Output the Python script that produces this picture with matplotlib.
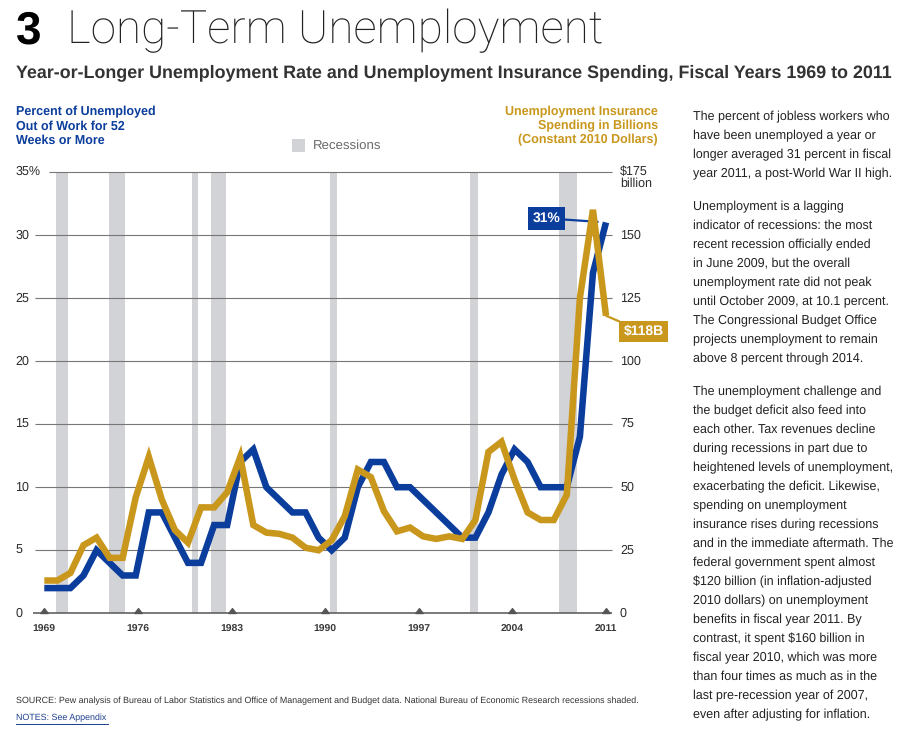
import numpy as np
import matplotlib
matplotlib.use("Agg")
import matplotlib.pyplot as plt
from matplotlib.path import Path
from matplotlib.patches import Rectangle
from matplotlib.lines import Line2D

W, H = 919, 737
BLUE = "#0b3d9c"
GOLD = "#c9971c"
REC_GRAY = "#d2d3d6"
GRID = "#777777"
TEXT = "#2b2b2b"

plt.rcParams['font.family'] = ['Liberation Sans', 'DejaVu Sans']
plt.rcParams['text.parse_math'] = False
plt.rcParams['text.hinting'] = 'no_hinting'

# --- data (44 points drawn across fiscal 1969-2011) ---
long_term_pct = [2, 2, 2, 3, 5, 4, 3, 3, 8, 8, 6, 4, 4, 7, 7, 12, 13, 10, 9, 8,
                 8, 6, 5, 6, 10, 12, 12, 10, 10, 9, 8, 7, 6, 6, 8, 11, 13, 12, 10, 10,
                 10, 14, 27, 31]
ui_spending = [13, 13, 16, 27, 30, 22, 22, 46, 62, 45, 33, 28, 42, 42, 48, 62,
               35, 32, 31.5, 30, 26, 25, 29, 38.5, 57, 54, 40.5, 32.5, 34, 30.5, 29.5,
               30.5, 29.5, 37, 64, 68, 53, 40, 37, 37, 47, 125, 160, 118]
recessions = [(1969.9, 1970.75), (1973.85, 1975.0), (1980.05, 1980.5), (1981.45, 1982.6),
              (1990.35, 1990.9), (2000.8, 2001.4), (2007.5, 2008.8)]
year_ticks = [1969, 1976, 1983, 1990, 1997, 2004, 2011]
pct_ticks = [0, 5, 10, 15, 20, 25, 30, 35]
bil_ticks = [0, 25, 50, 75, 100, 125, 150, 175]

p1 = ["The percent of jobless workers who",
      "have been unemployed a year or",
      "longer averaged 31 percent in fiscal",
      "year 2011, a post-World War II high."]
p2 = ["Unemployment is a lagging",
      "indicator of recessions: the most",
      "recent recession officially ended",
      "in June 2009, but the overall",
      "unemployment rate did not peak",
      "until October 2009, at 10.1 percent.",
      "The Congressional Budget Office",
      "projects unemployment to remain",
      "above 8 percent through 2014."]
p3 = ["The unemployment challenge and",
      "the budget deficit also feed into",
      "each other. Tax revenues decline",
      "during recessions in part due to",
      "heightened levels of unemployment,",
      "exacerbating the deficit. Likewise,",
      "spending on unemployment",
      "insurance rises during recessions",
      "and in the immediate aftermath. The",
      "federal government spent almost",
      "$120 billion (in inflation-adjusted",
      "2010 dollars) on unemployment",
      "benefits in fiscal year 2011. By",
      "contrast, it spent $160 billion in",
      "fiscal year 2010, which was more",
      "than four times as much as in the",
      "last pre-recession year of 2007,",
      "even after adjusting for inflation."]

# x positions of the 44 points, evenly spread over the axis like the source
fiscal_x = np.linspace(year_ticks[0], year_ticks[-1], len(long_term_pct))


def fx(px):
    return px / W


def fy(py):
    return 1 - py / H


fig = plt.figure(figsize=(W / 100, H / 100), dpi=100)
fig.patch.set_facecolor("white")

# plot area in pixels
L, R, T, B = 35, 612, 172, 613.3
PXY = (606 - 44.3) / 42  # pixels per year
ax = fig.add_axes([fx(L), fy(B), (R - L) / W, (B - T) / H])
ax.set_xlim(1969 - (44.3 - L) / PXY, 2011 + (R - 606) / PXY)
ax.set_ylim(0, 35)
ax.axis("off")
ax2 = ax.twinx()
ax2.set_ylim(0, 175)
ax2.axis("off")


def ax_x(px):
    return (px - L) / (R - L)


def ax_y(py):
    return (B - py) / (B - T)


# recession bars
for s, e in recessions:
    ax.axvspan(s, e, ymin=0, ymax=1, color=REC_GRAY, lw=0, zorder=0)

# gridlines + left labels
ytr = ax.get_yaxis_transform()
for v in pct_ticks:
    if v == 0:
        ax.hlines(v, ax_x(33), 1, transform=ytr, color="#555555", lw=1.1, zorder=1, clip_on=False)
    else:
        x0 = ax_x(49) if v == 35 else 0
        ax.hlines(v, x0, 1, transform=ytr, color=GRID, lw=0.8, zorder=1, clip_on=False)
    lab = "35%" if v == 35 else str(v)
    ax.text(ax_x(15.5), v, lab, transform=ytr, ha="left", va="center",
            fontsize=9, color=TEXT)

# right labels
ytr2 = ax2.get_yaxis_transform()
for v in bil_ticks:
    lab = "$175" if v == 175 else str(v)
    ax2.text(ax_x(620), v, lab, transform=ytr2, ha="left", va="center",
             fontsize=9, color=TEXT)
ax2.text(ax_x(620), 175 - 4.4, "billion", transform=ytr2, ha="left", va="center",
         fontsize=9, color=TEXT)

# year ticks (small triangles on the baseline) and labels
tri = Path([(-1.0, 0.0), (1.0, 0.0), (0.0, 1.3), (-1.0, 0.0)],
           [Path.MOVETO, Path.LINETO, Path.LINETO, Path.CLOSEPOLY])
ax.plot(year_ticks, [0] * len(year_ticks), ls="none", marker=tri, ms=7,
        color="#555555", zorder=2, clip_on=False)
xtr = ax.get_xaxis_transform()
for yr in year_ticks:
    ax.text(yr, ax_y(629), str(yr), transform=xtr, ha="center", va="center",
            fontsize=7.5, fontweight="bold", color="#3a3a3a")

# data lines
ax.plot(fiscal_x, long_term_pct, color=BLUE, lw=4.7, zorder=3,
        solid_joinstyle="miter", solid_capstyle="butt", clip_on=False)
ax2.plot(fiscal_x, ui_spending, color=GOLD, lw=4.7, zorder=4,
         solid_joinstyle="miter", solid_capstyle="butt", clip_on=False)

# end labels
ax.annotate("31%", xy=(fiscal_x[-1], long_term_pct[-1]), xytext=(-43, 3),
            textcoords="offset points", ha="center", va="center",
            fontsize=10, fontweight="bold", color="white",
            bbox=dict(boxstyle="square,pad=0.35", fc=BLUE, ec="none"),
            arrowprops=dict(arrowstyle="-", color=BLUE, lw=1.6, shrinkA=0, shrinkB=6),
            zorder=6, annotation_clip=False)
ax2.annotate("$118B", xy=(fiscal_x[-1], ui_spending[-1]), xytext=(27, -11.5),
             textcoords="offset points", ha="center", va="center",
             fontsize=10, fontweight="bold", color="white",
             bbox=dict(boxstyle="square,pad=0.3", fc=GOLD, ec="none"),
             arrowprops=dict(arrowstyle="-", color=GOLD, lw=1.6, shrinkA=0, shrinkB=0),
             zorder=6, annotation_clip=False)

# titles
fig.text(fx(16), fy(43), "3", fontsize=33, fontweight="bold", color="black",
         ha="left", va="baseline")
fig.text(fx(67), fy(43), "Long-Term Unemployment", fontsize=33, fontweight=100,
         family=["Roboto", "Lato", "DejaVu Sans"], color="#222222",
         ha="left", va="baseline")
fig.text(fx(16), fy(77), "Year-or-Longer Unemployment Rate and Unemployment Insurance "
         "Spending, Fiscal Years 1969 to 2011", fontsize=12.85, fontweight="bold",
         color="#333333", ha="left", va="baseline")

fig.text(fx(16), fy(106), "Percent of Unemployed\nOut of Work for 52\nWeeks or More",
         ha="left", va="top", fontsize=9, fontweight="bold", color=BLUE, linespacing=1.2)
fig.text(fx(658), fy(106), "Unemployment Insurance\nSpending in Billions\n(Constant 2010 Dollars)",
         ha="right", va="top", fontsize=9, fontweight="bold", color=GOLD,
         linespacing=1.2, multialignment="right")

# recessions key
fig.patches.append(Rectangle((fx(292), fy(152)), 13 / W, 13 / H,
                             transform=fig.transFigure, fc=REC_GRAY, ec="none"))
fig.text(fx(313), fy(146), "Recessions", ha="left", va="center", fontsize=9.5,
         color="#6a6a6a")

# side text
y = 116.7
for para in (p1, p2, p3):
    for line in para:
        fig.text(fx(693), fy(y), line, ha="left", va="center", fontsize=9, color="#222222")
        y += 19
    y += 14

# source + notes
fig.text(fx(16), fy(701), "SOURCE: Pew analysis of Bureau of Labor Statistics and Office of "
         "Management and Budget data. National Bureau of Economic Research recessions shaded.",
         ha="left", va="center", fontsize=6.4, color="#333333")
fig.text(fx(16), fy(718), "NOTES: See Appendix", ha="left", va="center",
         fontsize=6.4, color="#1f3f8f")
fig.lines.append(Line2D([fx(16), fx(108)], [fy(724), fy(724)], transform=fig.transFigure,
                        color="#1f3f8f", lw=0.7))

fig.savefig("out.png", dpi=100, facecolor="white")
